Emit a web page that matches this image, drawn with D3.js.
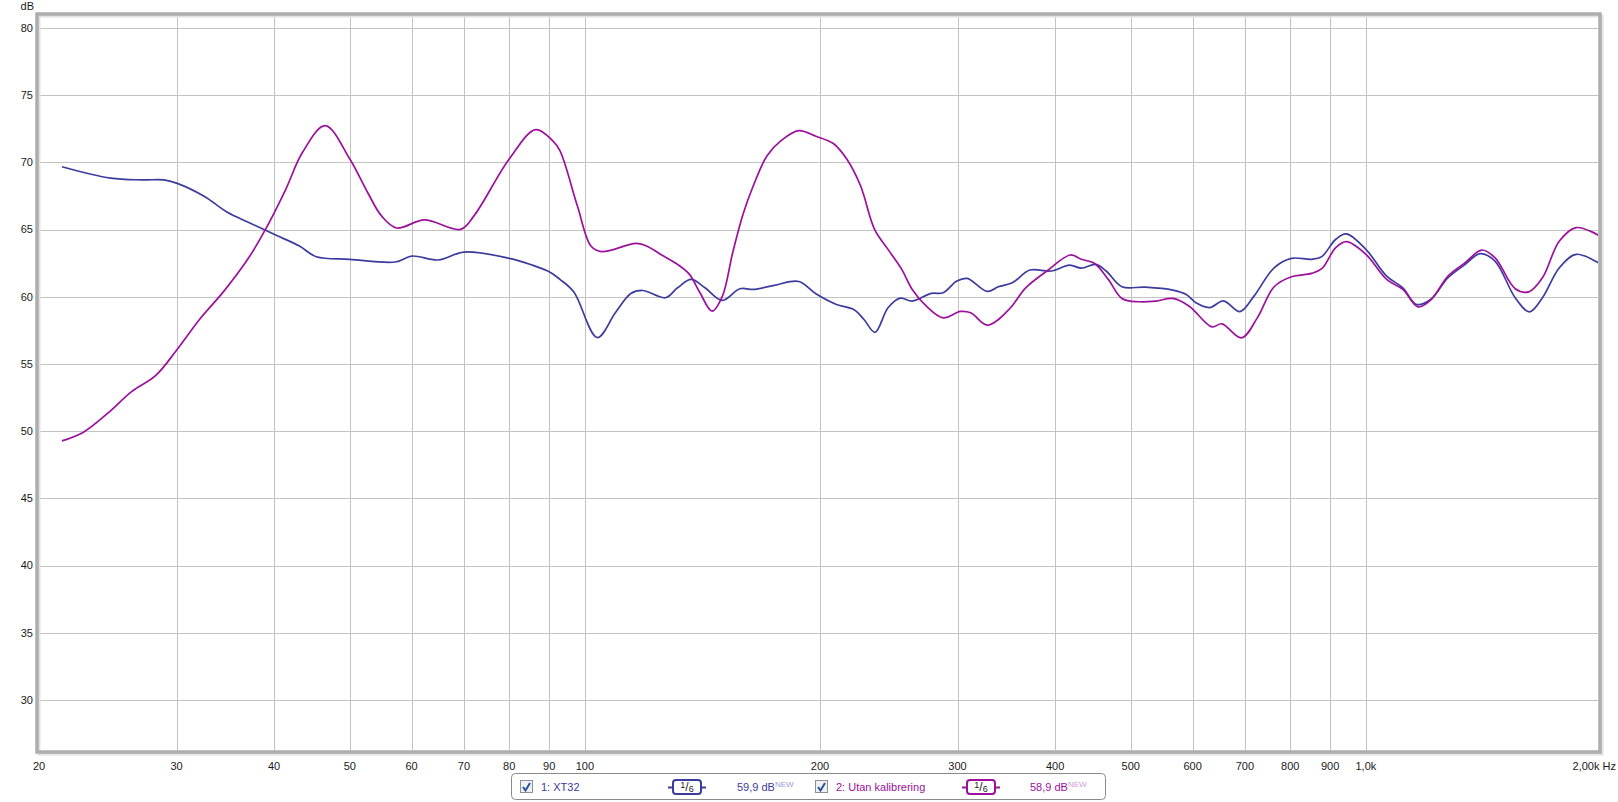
<!DOCTYPE html>
<html>
<head>
<meta charset="utf-8">
<script src="https://cdn.jsdelivr.net/npm/d3@7"></script>
<style>
  body { margin: 0; background: #fff; }
  svg { display: block; font-family: "Liberation Sans", Arial, sans-serif; }
</style>
</head>
<body>
<svg id="chart" width="1618" height="802"></svg>
<script>
// frequency response, two measurements (Hz, dB)
const xt32Freq = [21.4, 24.7, 27.1, 28.9, 30, 32.5, 34.9, 37.0, 40, 43.1, 45.3, 50, 57.2, 60, 64.9, 70, 80, 85.6, 90,
  92.9, 96.8, 103.7, 109.4, 114.5, 118.6, 126.8, 131.4, 136.8, 142.5, 150, 157.9, 164.3, 174.7, 187.9, 197.6,
  209.9, 220.9, 227.7, 235.2, 244.4, 253.4, 262.5, 277.6, 287.5, 299.4, 308.6, 327.6, 338.4, 352.6, 371.3,
  395.3, 417.4, 432, 451, 465, 487, 522, 566, 589, 606, 631, 657, 690, 719, 763, 803, 852, 878, 915, 944,
  1000, 1063, 1115, 1161, 1210, 1274, 1340, 1400, 1463, 1553, 1620, 1683, 1769, 1859, 2000];
const xt32Db = [69.68, 68.83, 68.7, 68.7, 68.46, 67.5, 66.27, 65.57, 64.65, 63.78, 62.98, 62.79, 62.59, 63.03, 62.74, 63.33, 62.86, 62.36, 61.87,
  61.3, 60.35, 56.97, 58.81, 60.25, 60.47, 59.93, 60.67, 61.29, 60.67, 59.73, 60.6, 60.55, 60.85, 61.14, 60.22,
  59.43, 59.05, 58.31, 57.36, 59.18, 59.9, 59.68, 60.25, 60.3, 61.17, 61.37, 60.4, 60.75, 61.04, 61.99,
  61.92, 62.36, 62.13, 62.41, 61.92, 60.75, 60.72, 60.5, 60.17, 59.55, 59.2, 59.7, 58.9, 60.05, 62.16, 62.86, 62.79, 62.99, 64.28, 64.68,
  63.53, 61.54, 60.67, 59.43, 59.8, 61.42, 62.41, 63.21, 62.66, 59.93, 58.88, 59.93, 62.16, 63.16, 62.41];

const utanFreq = [21.4, 22.8, 24.5, 26.3, 28.2, 30, 32.1, 34.5, 37.0, 38.9, 41.4, 43.5, 46.5, 50, 52.7, 54.9, 57.4, 62.3, 69.3,
  72.1, 80, 86.5, 90.9, 92.9, 97.8, 101.8, 105, 116.3, 119.9, 126.1, 131.4, 136.1, 140.4, 145.5, 150, 154.6,
  159.4, 164.3, 171.1, 178.3, 187.9, 197.6, 207.8, 216.4, 225.4, 234.9, 244.4, 254.5, 262.5, 273.7, 287.5,
  302.6, 311.9, 327.6, 349, 366.8, 390.4, 418.4, 432, 449, 468, 487, 512, 538, 566, 594, 635, 654, 693, 726,
  763, 803, 852, 878, 915, 944, 1000, 1063, 1115, 1166, 1210, 1274, 1340, 1407, 1463, 1553, 1616, 1683, 1769, 1859, 2000];
const utanDb = [49.28, 49.93, 51.34, 52.96, 54.13, 56.02, 58.31, 60.42, 62.79, 64.9, 68.0, 70.75, 72.74, 70.25, 67.76, 66.02, 65.12, 65.72, 65.02,
  66.02, 70.25, 72.44, 71.62, 70.87, 66.77, 63.78, 63.36, 63.98, 63.78, 63.03, 62.41, 61.67, 60.3, 58.93, 60.05, 63.28,
  66.14, 68.26, 70.5, 71.62, 72.36, 71.94, 71.42, 70.25, 68.26, 65.02, 63.53, 62.04, 60.55, 59.3, 58.43,
  58.91, 58.81, 57.89, 59.05, 60.67, 61.92, 63.11, 62.79, 62.49, 61.29, 59.88, 59.63, 59.68, 59.88, 59.3, 57.76, 57.99, 56.94, 58.43,
  60.75, 61.49, 61.74, 62.09, 63.66, 64.1, 63.16, 61.29, 60.55, 59.25, 59.75, 61.54, 62.54, 63.48, 62.91, 60.6, 60.37, 61.42, 64.15, 65.15, 64.48];

const freqTicks = [20, 30, 40, 50, 60, 70, 80, 90, 100, 200, 300, 400, 500, 600, 700, 800, 900, 1000, 2000];
const freqLabels = ["20", "30", "40", "50", "60", "70", "80", "90", "100", "200", "300", "400", "500", "600", "700", "800", "900", "1,0k", "2,00k Hz"];
const dbTicks = [30, 35, 40, 45, 50, 55, 60, 65, 70, 75, 80];

const seriesNames = ["1: XT32", "2: Utan kalibrering"];
const seriesLevels = ["59,9 dB", "58,9 dB"];
const seriesColors = ["#3c3c9e", "#9c109c"];
const newColors = ["#9a9cd6", "#d49ad4"];

const width = 1618, height = 802;
const frame = { left: 37, top: 14, right: 1600, bottom: 752 };

const svg = d3.select("#chart");

const x = d3.scaleLog()
  .domain([20, 2000])
  .range([39, 1601]);
const y = d3.scaleLinear()
  .domain([30, 80])
  .range([700, 28]);

// plot background + clip
svg.append("defs").append("clipPath").attr("id", "plotClip")
  .append("rect")
  .attr("x", frame.left + 2).attr("y", frame.top + 2)
  .attr("width", frame.right - frame.left - 4)
  .attr("height", frame.bottom - frame.top - 4);

// grid
const grid = svg.append("g")
  .attr("stroke", "#c3c3c3")
  .attr("stroke-width", 1)
  .attr("clip-path", "url(#plotClip)");
grid.selectAll("line.v")
  .data(freqTicks.slice(1, -1))
  .join("line")
  .attr("class", "v")
  .attr("x1", d => Math.round(x(d)) + 0.5)
  .attr("x2", d => Math.round(x(d)) + 0.5)
  .attr("y1", frame.top)
  .attr("y2", frame.bottom);
grid.selectAll("line.h")
  .data(dbTicks)
  .join("line")
  .attr("class", "h")
  .attr("y1", d => Math.round(y(d)) + 0.5)
  .attr("y2", d => Math.round(y(d)) + 0.5)
  .attr("x1", frame.left)
  .attr("x2", frame.right);

// frame with a soft shadow
svg.append("rect")
  .attr("x", frame.left + 2).attr("y", frame.top + 2)
  .attr("width", frame.right - frame.left).attr("height", frame.bottom - frame.top)
  .attr("fill", "none").attr("stroke", "#e2e2e2").attr("stroke-width", 3);
svg.append("rect")
  .attr("x", frame.left).attr("y", frame.top)
  .attr("width", frame.right - frame.left).attr("height", frame.bottom - frame.top)
  .attr("fill", "none").attr("stroke", "#adadad").attr("stroke-width", 3.5);

// y axis labels
const yAxis = svg.append("g")
  .attr("font-size", 11)
  .attr("fill", "#1a1a1a")
  .attr("text-anchor", "end");
yAxis.selectAll("text")
  .data(dbTicks)
  .join("text")
  .attr("x", 33)
  .attr("y", d => y(d))
  .attr("dy", "0.35em")
  .text(d => d);
yAxis.append("text")
  .attr("x", 34)
  .attr("y", 6)
  .attr("dy", "0.35em")
  .text("dB");

// x axis labels
svg.append("g")
  .attr("font-size", 11)
  .attr("fill", "#1a1a1a")
  .selectAll("text")
  .data(freqTicks)
  .join("text")
  .attr("x", (d, i) => i === freqTicks.length - 1 ? 1616 : x(d))
  .attr("y", 766)
  .attr("dy", "0.35em")
  .attr("text-anchor", (d, i) => i === freqTicks.length - 1 ? "end" : "middle")
  .text((d, i) => freqLabels[i]);

// curves
const line = d3.line()
  .x(d => x(d[0]))
  .y(d => y(d[1]))
  .curve(d3.curveCatmullRom.alpha(0.5));

const series = [
  d3.zip(xt32Freq, xt32Db),
  d3.zip(utanFreq, utanDb)
];

svg.append("g")
  .attr("clip-path", "url(#plotClip)")
  .attr("fill", "none")
  .attr("stroke-width", 1.7)
  .attr("stroke-linejoin", "round")
  .selectAll("path")
  .data(series)
  .join("path")
  .attr("stroke", (d, i) => seriesColors[i])
  .attr("d", line);

// legend
const legend = svg.append("g").attr("font-size", 11);
legend.append("rect")
  .attr("x", 511.5).attr("y", 773.5)
  .attr("width", 594).attr("height", 26)
  .attr("rx", 4)
  .attr("fill", "#fff")
  .attr("stroke", "#8a8a8a");

const itemX = [520, 815];
const badgeX = [668, 962];
const levelX = [737, 1030];
const ly = 787;

seriesNames.forEach((name, i) => {
  const g = legend.append("g");
  const cx = itemX[i];
  // checkbox
  g.append("rect")
    .attr("x", cx + 0.5).attr("y", ly - 6.5)
    .attr("width", 12).attr("height", 12)
    .attr("fill", "#eef0f4").attr("stroke", "#8e8f94");
  g.append("path")
    .attr("d", `M${cx + 3},${ly} L${cx + 5.5},${ly + 3.5} L${cx + 10},${ly - 4}`)
    .attr("fill", "none").attr("stroke", "#2d4f9e").attr("stroke-width", 2);
  // name
  g.append("text")
    .attr("x", cx + 21).attr("y", ly).attr("dy", "0.35em")
    .attr("fill", seriesColors[i])
    .text(name);
  // smoothing badge
  const bx = badgeX[i];
  g.append("line")
    .attr("x1", bx).attr("x2", bx + 38)
    .attr("y1", ly + 0.5).attr("y2", ly + 0.5)
    .attr("stroke", seriesColors[i]).attr("stroke-width", 2);
  g.append("rect")
    .attr("x", bx + 5).attr("y", ly - 7)
    .attr("width", 28).attr("height", 14)
    .attr("rx", 3)
    .attr("fill", "#fff").attr("stroke", seriesColors[i]).attr("stroke-width", 2);
  const frac = g.append("text")
    .attr("x", bx + 19).attr("y", ly + 4)
    .attr("text-anchor", "middle")
    .attr("fill", "#222");
  frac.append("tspan").attr("font-size", 9).attr("dy", -3).text("1");
  frac.append("tspan").attr("font-size", 12).attr("dy", 3).text("/");
  frac.append("tspan").attr("font-size", 9).attr("dy", 1).text("6");
  // level with NEW mark
  const lv = g.append("text")
    .attr("x", levelX[i]).attr("y", ly).attr("dy", "0.35em")
    .attr("fill", seriesColors[i]);
  lv.append("tspan").text(seriesLevels[i]);
  lv.append("tspan")
    .attr("font-size", 8).attr("dy", -4)
    .attr("fill", newColors[i])
    .text("NEW");
});
</script>
</body>
</html>
